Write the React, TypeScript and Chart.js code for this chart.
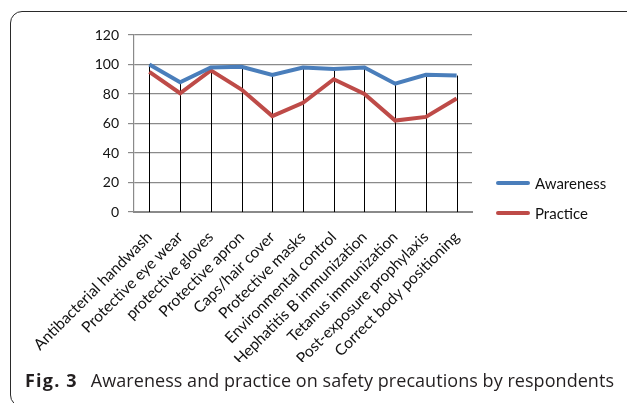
import React, { useEffect, useRef } from "react";
import { Chart, registerables } from "chart.js";

Chart.register(...registerables);

const categories = [
  "Antibacterial handwash",
  "Protective eye wear",
  "protective gloves",
  "Protective apron",
  "Caps/hair cover",
  "Protective masks",
  "Environmental control",
  "Hephatitis B immunization",
  "Tetanus immunization",
  "Post-exposure prophylaxis",
  "Correct body positioning",
];
const awareness = [100, 88, 98, 98.5, 93, 98, 97, 98, 87, 93, 92.5];
const practice = [95, 80.5, 96, 83, 65, 74, 90, 80, 62, 64.5, 77];
const seriesNames = ["Awareness", "Practice"];
const seriesColors = ["#4a7ebb", "#be4b48"];
const yMin = 0;
const yMax = 120;
const yStep = 20;
const captionBold = "Fig. 3";
const captionText = "Awareness and practice on safety precautions by respondents";

const dropLines = {
  id: "dropLines",
  beforeDatasetsDraw(chart: any) {
    const { ctx, scales } = chart;
    const x = scales.x;
    const y = scales.y;
    ctx.save();
    ctx.strokeStyle = "#000";
    ctx.lineWidth = 1;
    categories.forEach((_, i) => {
      const top = Math.max(awareness[i], practice[i]);
      const px = Math.round(x.getPixelForValue(i)) + 0.5;
      ctx.beginPath();
      ctx.moveTo(px, y.getPixelForValue(top));
      ctx.lineTo(px, y.getPixelForValue(0));
      ctx.stroke();
    });
    ctx.restore();
  },
};

export default function App() {
  const ref = useRef<HTMLCanvasElement | null>(null);

  useEffect(() => {
    if (!ref.current) return;
    const yFont = { family: "Lato", size: 14 };
    const xFont = { family: "Lato", size: 15.5 };
    const chart = new Chart(ref.current, {
      type: "line",
      data: {
        labels: categories,
        datasets: [
          {
            label: seriesNames[0],
            data: awareness,
            borderColor: seriesColors[0],
            backgroundColor: seriesColors[0],
            borderWidth: 4,
            pointRadius: 0,
            tension: 0,
          },
          {
            label: seriesNames[1],
            data: practice,
            borderColor: seriesColors[1],
            backgroundColor: seriesColors[1],
            borderWidth: 4,
            pointRadius: 0,
            tension: 0,
          },
        ],
      },
      options: {
        animation: false,
        responsive: false,
        maintainAspectRatio: false,
        layout: { padding: { top: 35, right: 155, left: 90, bottom: 41 } },
        plugins: { legend: { display: false }, tooltip: { enabled: false } },
        scales: {
          x: {
            offset: true,
            grid: { display: false, drawTicks: false },
            border: { display: true, color: "#8a8a8a", width: 2 },
            ticks: {
              autoSkip: false,
              minRotation: 45,
              maxRotation: 45,
              font: xFont,
              color: "#111",
              padding: 16,
            },
            afterFit: (s: any) => {
              s.height = 150;
            },
          },
          y: {
            min: yMin,
            max: yMax,
            ticks: { stepSize: yStep, font: yFont, color: "#111", padding: 9 },
            grid: { color: "#8a8a8a", lineWidth: 1.2, tickLength: 6 },
            border: { display: true, color: "#8a8a8a", width: 1.2 },
            afterFit: (s: any) => {
              s.width = 44;
            },
          },
        },
      },
      plugins: [dropLines],
    });
    return () => chart.destroy();
  }, []);

  const legendItem = (i: number, top: number) => (
    <div
      key={i}
      style={{
        position: "absolute",
        left: 496,
        top: top - 9,
        height: 18,
        display: "flex",
        alignItems: "center",
        fontFamily: "Lato",
        fontSize: 15,
        color: "#111",
        whiteSpace: "nowrap",
      }}
    >
      <span
        style={{
          display: "inline-block",
          width: 34,
          height: 4,
          borderRadius: 2,
          background: seriesColors[i],
          marginRight: 5,
        }}
      />
      <span style={{ lineHeight: "18px" }}>{seriesNames[i]}</span>
    </div>
  );

  return (
    <div
      style={{
        position: "absolute",
        left: 0,
        top: 0,
        width: 627,
        height: 403,
        overflow: "hidden",
        background: "#fff",
      }}
    >
      <div
        style={{
          position: "absolute",
          left: 10,
          top: 11,
          width: 660,
          height: 396,
          border: "1.5px solid #2a2a2a",
          borderRadius: 12,
          boxSizing: "border-box",
        }}
      />
      <canvas
        ref={ref}
        width={627}
        height={403}
        style={{ position: "absolute", left: 0, top: 0, width: 627, height: 403 }}
      />
      {legendItem(0, 183)}
      {legendItem(1, 213)}
      <div
        style={{
          position: "absolute",
          left: 25,
          top: 370,
          lineHeight: "20px",
          fontFamily: "'Open Sans'",
          fontSize: 18,
          color: "#231f20",
          whiteSpace: "nowrap",
        }}
      >
        <span style={{ fontWeight: 700, letterSpacing: 1.2 }}>{captionBold}</span>
        <span style={{ marginLeft: 13, letterSpacing: 0.05 }}>{captionText}</span>
      </div>
    </div>
  );
}
